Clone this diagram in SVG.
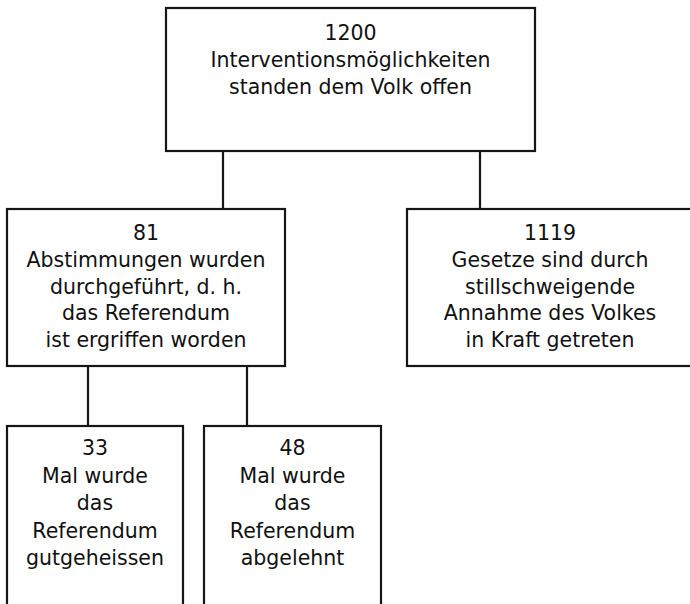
<svg xmlns="http://www.w3.org/2000/svg" width="690" height="604" viewBox="0 0 690 604">
<style>
.box{fill:none;stroke:#161616;stroke-width:2.2}
.ln{stroke:#161616;stroke-width:2.2;fill:none}
text{font-family:"DejaVu Sans","Liberation Sans",sans-serif;font-size:20.5px;fill:#111;text-anchor:middle}
</style>
<rect x="0" y="0" width="690" height="604" fill="#ffffff"/>
<g id="connectors">
<line class="ln" x1="223" y1="151" x2="223" y2="209"/>
<line class="ln" x1="480" y1="151" x2="480" y2="209"/>
<line class="ln" x1="88" y1="366" x2="88" y2="426"/>
<line class="ln" x1="247" y1="366" x2="247" y2="426"/>
</g>
<g id="node-1200">
<rect class="box" x="166" y="8" width="369" height="143"/>
<text x="350.5" y="40">1200</text>
<text x="350.5" y="67">Interventionsmöglichkeiten</text>
<text x="350.5" y="94">standen dem Volk offen</text>
</g>
<g id="node-81">
<rect class="box" x="7" y="209" width="278" height="157"/>
<text x="146" y="240">81</text>
<text x="146" y="267">Abstimmungen wurden</text>
<text x="146" y="293.5">durchgeführt, d. h.</text>
<text x="146" y="320">das Referendum</text>
<text x="146" y="347">ist ergriffen worden</text>
</g>
<g id="node-1119">
<rect class="box" x="407" y="209" width="300" height="157"/>
<text x="550" y="240">1119</text>
<text x="550" y="267">Gesetze sind durch</text>
<text x="550" y="293.5">stillschweigende</text>
<text x="550" y="320">Annahme des Volkes</text>
<text x="550" y="347">in Kraft getreten</text>
</g>
<g id="node-33">
<rect class="box" x="7" y="426" width="176" height="200"/>
<text x="95" y="455">33</text>
<text x="95" y="482.5">Mal wurde</text>
<text x="95" y="510">das</text>
<text x="95" y="537.5">Referendum</text>
<text x="95" y="565">gutgeheissen</text>
</g>
<g id="node-48">
<rect class="box" x="204" y="426" width="177" height="200"/>
<text x="292.5" y="455">48</text>
<text x="292.5" y="482.5">Mal wurde</text>
<text x="292.5" y="510">das</text>
<text x="292.5" y="537.5">Referendum</text>
<text x="292.5" y="565">abgelehnt</text>
</g>
</svg>
